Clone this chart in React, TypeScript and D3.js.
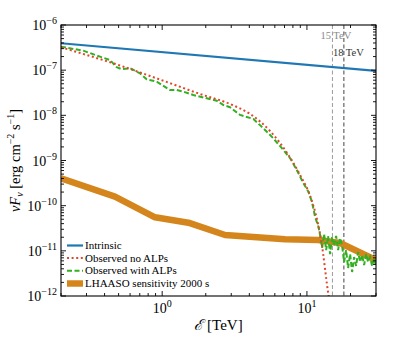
import React from 'react';
import * as d3 from 'd3';

// ---------- data (energy in TeV, flux in erg cm^-2 s^-1) ----------
const intrinsicE = [0.2, 30];
const intrinsicF = [3.94e-7, 9.6e-8];

const noAlpE = [0.2, 0.317, 0.511, 0.824, 1.227, 1.826, 2.944, 4.05, 5.56, 7.29, 8.97, 10.52, 11.76, 12.53, 14.12, 14.46];
const noAlpF = [3.21e-7, 2.06e-7, 1.27e-7, 7.43e-8, 4.7e-8, 2.97e-8, 1.78e-8, 1.07e-8, 4.5e-9, 1.47e-9, 4.78e-10, 1.64e-10, 4.82e-11, 1.74e-11, 1e-12, 6.3e-13];

const alpE = [
  0.2, 0.285, 0.372, 0.436, 0.485, 0.526, 0.6, 0.703, 0.782, 0.917, 1.133, 1.26, 1.4, 1.64, 2.03, 2.38, 2.65, 2.94,
  3.45, 4.27, 5.0, 5.86, 6.87, 7.66, 8.51, 9.46, 10.24, 10.82, 11.38, 12.0, 12.33,
  12.73, 13.14, 13.57, 14.0, 14.46, 14.92, 15.41, 15.91, 16.42, 16.95, 17.5, 18.07, 18.65, 19.25, 19.87, 20.52,
  21.18, 21.86, 22.57, 23.3, 24.06, 24.83, 25.63, 26.46, 27.32, 28.2, 29.11, 30.0,
];
const alpF = [
  3.31e-7, 2.7e-7, 1.99e-7, 1.68e-7, 1.16e-7, 1.05e-7, 1.1e-7, 8.53e-8, 6.28e-8, 5.56e-8, 3.64e-8, 3.64e-8, 3.34e-8, 2.82e-8, 2.38e-8, 2.11e-8, 1.69e-8, 1.51e-8,
  1.02e-8, 8.3e-9, 5.16e-9, 3.1e-9, 1.71e-9, 1.12e-9, 6.17e-10, 3.13e-10, 2.04e-10, 1.23e-10, 5.7e-11, 3.43e-11, 2.24e-11,
  1.16e-11, 2.36e-11, 1.04e-11, 2.13e-11, 8.5e-12, 2.03e-11, 1.28e-11, 2.13e-11, 1.04e-11, 1.92e-11, 1.28e-11, 5.66e-12, 1.04e-11, 4.17e-12, 8.5e-12, 3.4e-12,
  7.3e-12, 4.62e-12, 9.4e-12, 5.66e-12, 8.1e-12, 4.86e-12, 8.5e-12, 5.66e-12, 7.3e-12, 4.62e-12, 6.95e-12, 4.62e-12,
];

const lhaasoE = [0.2, 0.472, 0.892, 1.516, 2.72, 7.06, 11.94, 16.95, 30];
const lhaasoF = [4.04e-10, 1.58e-10, 5.53e-11, 4.2e-11, 2.24e-11, 1.8e-11, 1.74e-11, 1.49e-11, 6.27e-12];

const markerE = [15, 18];
const markerLabels = ['15 TeV', '18 TeV'];

const legendLabels = ['Intrinsic', 'Observed no ALPs', 'Observed with ALPs', 'LHAASO sensitivity 2000 s'];

const xMajor = [1, 10];
const yMajorExp = [-12, -11, -10, -9, -8, -7, -6];

const FONT = "'Liberation Serif', 'DejaVu Serif', serif";
const C_BLUE = '#1f77b4';
const C_RED = '#e0472a';
const C_GREEN = '#33b022';
const C_ORANGE = '#d4861d';

export default function App() {
  const W = 415, H = 340;
  const L = 61, R = 376, T = 25, B = 296;
  const x = d3.scaleLog().domain([0.2, 30]).range([L, R]);
  const y = d3.scaleLog().domain([1e-12, 1e-6]).range([B, T]);

  const path = (E: number[], F: number[]) =>
    d3.line<number>().x((_, i) => x(E[i])).y((d) => y(d))(F) || '';
  const smooth = (E: number[], F: number[]) =>
    d3.line<number>().x((_, i) => x(E[i])).y((d) => y(d)).curve(d3.curveMonotoneX)(F) || '';

  const xTicks = x.ticks();
  const yTicks = y.ticks();
  const isPow10 = (v: number) => Math.abs(Math.log10(v) - Math.round(Math.log10(v))) < 1e-6;

  const MAJ = 5, MIN = 3;

  const legendY = [245.5, 258, 270.8, 283.5];

  return (
    <svg width={W} height={H} style={{ position: 'absolute', left: 0, top: 0, background: '#fff' }} fontFamily={FONT}>
      <defs>
        <clipPath id="plot">
          <rect x={L} y={T} width={R - L} height={B - T} />
        </clipPath>
      </defs>

      {/* vertical marker lines */}
      {markerE.map((e, i) => (
        <line key={'m' + i} x1={x(e)} x2={x(e)} y1={T} y2={B}
          stroke={i === 0 ? '#9a9a9a' : '#444'} strokeWidth={1} strokeDasharray="4,2.5" />
      ))}
      <text x={x(markerE[0]) - 12} y={39} fontSize={10.5} fill="#8a8a8a">{markerLabels[0]}</text>
      <text x={x(markerE[1]) - 11} y={56} fontSize={10.5} fill="#333">{markerLabels[1]}</text>

      <g clipPath="url(#plot)">
        <path d={path(lhaasoE, lhaasoF)} fill="none" stroke={C_ORANGE} strokeWidth={6.5} strokeLinejoin="round" />
        <path d={path(intrinsicE, intrinsicF)} fill="none" stroke={C_BLUE} strokeWidth={2.2} />
        <path d={path(alpE, alpF)} fill="none" stroke={C_GREEN} strokeWidth={2} strokeDasharray="5,2.5" />
        <path d={smooth(noAlpE, noAlpF)} fill="none" stroke={C_RED} strokeWidth={2} strokeDasharray="2,2.6" />
      </g>

      {/* frame */}
      <rect x={L} y={T} width={R - L} height={B - T} fill="none" stroke="#000" strokeWidth={1.1} />

      {/* x ticks (inward, bottom and top) */}
      {xTicks.map((t, i) => {
        const len = isPow10(t) ? MAJ : MIN;
        const px = x(t);
        return (
          <g key={'xt' + i} stroke="#000" strokeWidth={0.9}>
            <line x1={px} x2={px} y1={B} y2={B - len} />
            <line x1={px} x2={px} y1={T} y2={T + len} />
          </g>
        );
      })}
      {/* y ticks (inward, left and right) */}
      {yTicks.map((t, i) => {
        const len = isPow10(t) ? MAJ : MIN;
        const py = y(t);
        return (
          <g key={'yt' + i} stroke="#000" strokeWidth={0.9}>
            <line x1={L} x2={L + len} y1={py} y2={py} />
            <line x1={R} x2={R - len} y1={py} y2={py} />
          </g>
        );
      })}

      {/* x tick labels */}
      {xMajor.map((v, i) => (
        <text key={'xl' + i} x={x(v)} y={313} fontSize={14} textAnchor="middle">
          10<tspan dy={-6} fontSize={10}>{String(Math.round(Math.log10(v)))}</tspan>
        </text>
      ))}
      {/* y tick labels */}
      {yMajorExp.map((e, i) => (
        <text key={'yl' + i} x={57} y={y(Math.pow(10, e)) + 5} fontSize={14} textAnchor="end">
          10<tspan dy={-6} fontSize={10}>{'\u2212' + Math.abs(e)}</tspan>
        </text>
      ))}

      {/* axis labels */}
      <text x={218.5} y={330} fontSize={15} textAnchor="middle">
        <tspan fontStyle="italic">ℰ</tspan> [TeV]
      </text>
      <text transform={`translate(20,${(T + B) / 2}) rotate(-90)`} fontSize={14.5} textAnchor="middle">
        <tspan fontStyle="italic">νF</tspan><tspan fontStyle="italic" dy={3} fontSize={10}>ν</tspan>
        <tspan dy={-3}> [erg cm</tspan><tspan dy={-6} fontSize={10}>−2</tspan>
        <tspan dy={6}> s</tspan><tspan dy={-6} fontSize={10}>−1</tspan><tspan dy={6}>]</tspan>
      </text>

      {/* legend */}
      <g>
        <line x1={67} x2={83} y1={legendY[0]} y2={legendY[0]} stroke={C_BLUE} strokeWidth={2.2} />
        <line x1={67} x2={83} y1={legendY[1]} y2={legendY[1]} stroke={C_RED} strokeWidth={2} strokeDasharray="2,2.6" />
        <line x1={67} x2={83} y1={legendY[2]} y2={legendY[2]} stroke={C_GREEN} strokeWidth={2} strokeDasharray="5,2.5" />
        <line x1={67} x2={83} y1={legendY[3]} y2={legendY[3]} stroke={C_ORANGE} strokeWidth={6.5} />
        {legendLabels.map((s, i) => (
          <text key={'lg' + i} x={85} y={legendY[i] + 3.6} fontSize={11}>{s}</text>
        ))}
      </g>
    </svg>
  );
}
